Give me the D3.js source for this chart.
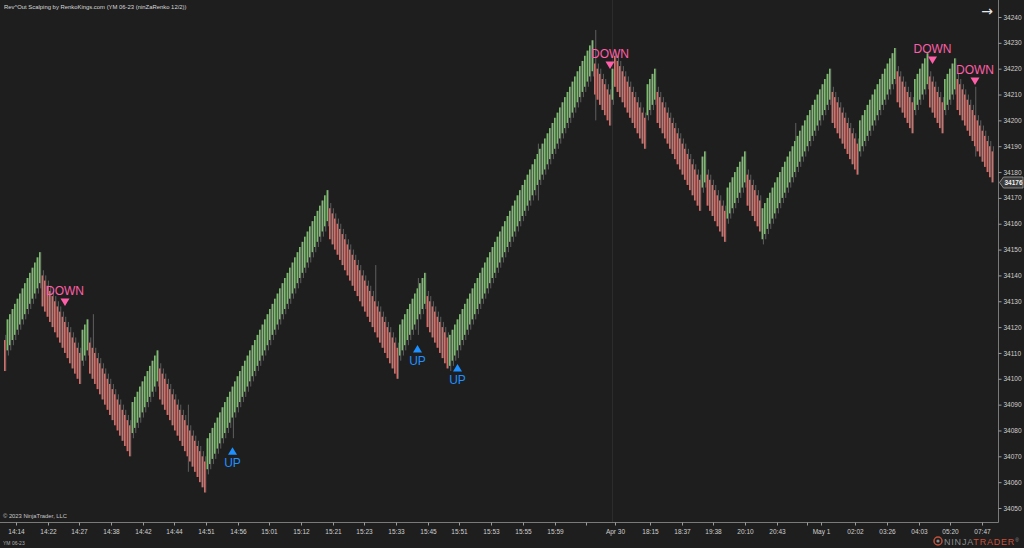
<!DOCTYPE html>
<html><head><meta charset="utf-8">
<script src="https://cdn.jsdelivr.net/npm/d3@7"></script>
<style>html,body{margin:0;padding:0;background:#1e1e1e;overflow:hidden}text{font-family:"Liberation Sans",Arial,sans-serif}</style>
</head><body><svg id="c" width="1024" height="548"></svg>
<script>
// ---- data ----
const closes = [
34103,
34123,34125,34127,34129,34131,34133,34135,34137,34139,34141,34143,34145,34147,34149,
34128,34126,34124,34122,34120,34118,34116,34114,34112,34110,34108,34106,34104,34102,34100,34098,
34119,34121,34123,
34102,34100,34098,34096,34094,34092,34090,34088,34086,34084,34082,34080,34078,34076,34074,34072,34070,
34091,34093,34095,34097,34099,34101,34103,34105,34107,34109,34111,
34092,34090,34088,34086,34084,34082,34080,34078,34076,34074,34072,34070,34068,34066,34064,34062,34060,34058,34056,
34077,34079,34081,34083,34085,34087,34089,34091,34093,34095,34097,34099,34101,34103,34105,34107,34109,34111,34113,34115,
34117,34119,34121,34123,34125,34127,34129,34131,34133,34135,34137,34139,34141,34143,34145,34147,34149,34151,34153,34155,
34157,34159,34161,34163,34165,34167,34169,34171,34173,
34154,34152,34150,34148,34146,34144,34142,34140,34138,34136,34134,34132,34130,34128,34126,34124,34122,34120,34118,34116,
34114,34112,34110,34108,34106,34104,34102,34100,
34121,34123,34125,34127,34129,34131,34133,34135,34137,34139,34141,
34120,34118,34116,34114,34112,34110,34108,34106,34104,
34117,34119,34121,34123,34125,34127,34129,34131,34133,34135,34137,34139,34141,34143,34145,34147,34149,34151,34153,34155,
34157,34159,34161,34163,34165,34167,34169,34171,34173,34175,34177,34179,34181,34183,34185,34187,34189,34191,34193,34195,
34197,34199,34201,34203,34205,34207,34209,34211,34213,34215,34217,34219,34221,34223,34225,34227,34229,34231,
34210,34208,34206,34204,34202,34200,34198,
34220,
34213,34211,34209,34207,34205,34203,34201,34199,34197,34195,34193,34191,34189,
34214,34216,34218,34220,
34199,34197,34195,34193,34191,34189,34187,34185,34183,34181,34179,34177,34175,34173,34171,34169,34167,34165,
34186,34188,
34167,34165,34163,34161,34159,34157,34155,34153,
34174,34176,34178,34180,34182,34184,34186,34188,
34167,34165,34163,34161,34159,34157,
34166,34168,34170,34172,34174,34176,34178,34180,34182,34184,34186,34188,34190,34192,34194,34196,34198,34200,34202,34204,
34206,34208,34210,34212,34214,34216,34218,34220,
34199,34197,34195,34193,34191,34189,34187,34185,34183,34181,34179,
34200,34202,34204,34206,34208,34210,34212,34214,34216,34218,34220,34222,34224,34226,34228,
34207,34205,34203,34201,34199,34197,34195,
34216,34218,34220,34222,34224,34226,
34205,34203,34201,34199,34197,34195,
34216,34218,34220,34222,34224,
34204,34202,34200,34198,34196,34194,34192,34190,34188,34186,34184,34182,34180,34178,34176
];
const brickSize = 12;
const wickTail = 2;
// long wicks: bar index, low, high
const wickIdx  = [35,    73,    91,    148,   165,   181,   213,   236,   316,   388];
const wickLow  = [34100, 34064, 34077, 34122, 34117, 34108, 34169, 34200, 34179, 34186];
const wickHigh = [34125, 34090, 34097, 34144, 34139, 34123, 34191, 34235, 34199, 34213];

const sigIdx   = [24, 91, 165, 181, 242, 371, 388];
const sigType  = ["DOWN","UP","UP","UP","DOWN","DOWN","DOWN"];
const sigPrice = [34129.7, 34072, 34111.5, 34104.2, 34221.4, 34223.4, 34215.2];

const yTickValues = [34050,34060,34070,34080,34090,34100,34110,34120,34130,34140,34150,34160,34170,34180,34190,34200,34210,34220,34230,34240];
const xTickIdx = [4.4,17.2,29.6,42.4,55.2,67.6,80.4,93.2,105.6,118.4,131.2,143.6,156.4,169.2,181.6,194.4,207.2,220,232.4,244,258,270.8,283.2,296,308.8,320.8,326.4,340,352.8,365.6,378,390.8];
const xTickLabels = ["14:14","14:22","14:27","14:38","14:42","14:44","14:51","14:56","15:01","15:12","15:21","15:23","15:33","15:45","15:51","15:53","15:55","15:59","","Apr 30","18:15","18:37","19:38","20:10","20:43","","May 1","02:02","03:26","04:03","05:20","07:47"];
const sessionBreaks = [242.7];
const lastPrice = 34176;

// ---- drawing ----
const W = 1024, H = 548;
const svg = d3.select("#c");
const plotR = 998.5, axisYpos = 522.5;
const x = d3.scaleLinear().domain([0, closes.length - 1]).range([5, 992.5]);
const y = d3.scaleLinear().domain([34050, 34240]).range([508, 17]);

svg.append("rect").attr("width", W).attr("height", H).attr("fill", "#1e1e1e");

svg.selectAll(".sess").data(sessionBreaks).join("line")
  .attr("x1", d => Math.round(x(d)) + 0.5).attr("x2", d => Math.round(x(d)) + 0.5)
  .attr("y1", 0).attr("y2", axisYpos).attr("stroke", "#2c2c2c").attr("stroke-width", 1);

const bars = closes.map((c, i) => {
  const up = i > 0 && c > closes[i - 1];
  const o = up ? c - brickSize : c + brickSize;
  let lo = up ? o - wickTail : c;
  let hi = up ? c : o + wickTail;
  const k = wickIdx.indexOf(i);
  if (k >= 0) { lo = Math.min(lo, wickLow[k]); hi = Math.max(hi, wickHigh[k]); }
  return {i, c, o, up, lo, hi};
});

const g = svg.append("g");
g.selectAll(".wick").data(bars).join("rect")
  .attr("x", d => x(d.i) + 0.4).attr("width", 0.8)
  .attr("y", d => y(d.hi)).attr("height", d => y(d.lo) - y(d.hi))
  .attr("fill", "#707070");
g.selectAll(".body").data(bars).join("rect")
  .attr("x", d => x(d.i) - 0.9).attr("width", 1.3)
  .attr("y", d => y(Math.max(d.o, d.c))).attr("height", d => Math.abs(y(d.o) - y(d.c)))
  .attr("fill", d => d.up ? "#86cf76" : "#ee7670");

// signals
const sig = sigIdx.map((idx, k) => ({idx, t: sigType[k], p: sigPrice[k]}));
const sg = svg.append("g");
sg.selectAll("path").data(sig).join("path")
  .attr("transform", d => `translate(${x(d.idx)},${y(d.p)})`)
  .attr("d", d => d.t === "UP" ? "M-4.5,3.5L4.5,3.5L0,-4Z" : "M-4.5,-3.5L4.5,-3.5L0,4Z")
  .attr("fill", d => d.t === "UP" ? "#1e90ff" : "#ff5fa8");
sg.selectAll("text").data(sig).join("text")
  .attr("x", d => x(d.idx)).attr("y", d => d.t === "UP" ? y(d.p) + 16 : y(d.p) - 7)
  .attr("text-anchor", "middle").attr("font-size", 12)
  .attr("fill", d => d.t === "UP" ? "#1e90ff" : "#ff5fa8")
  .text(d => d.t);

// y axis
svg.append("line").attr("x1", plotR).attr("x2", plotR).attr("y1", 0).attr("y2", axisYpos).attr("stroke", "#7a7a7a");
const ya = svg.append("g").attr("transform", `translate(${plotR},0)`)
  .call(d3.axisRight(y).tickValues(yTickValues).tickSize(3).tickPadding(2).tickFormat(d3.format("d")));
ya.select(".domain").remove();
ya.selectAll("line").attr("stroke", "#9a9a9a");
ya.selectAll("text").attr("fill", "#d0d0d0").attr("font-size", 6.5).attr("font-family", "Liberation Sans, Arial");

// x axis
svg.append("line").attr("x1", 0).attr("x2", plotR).attr("y1", axisYpos).attr("y2", axisYpos).attr("stroke", "#7a7a7a");
const xa = svg.append("g").attr("transform", `translate(0,${axisYpos})`)
  .call(d3.axisBottom(x).tickValues(xTickIdx).tickSize(3).tickPadding(4).tickFormat((d, i) => xTickLabels[i]));
xa.select(".domain").remove();
xa.selectAll("line").attr("stroke", "#9a9a9a");
xa.selectAll("text").attr("fill", "#d0d0d0").attr("font-size", 6.5).attr("font-family", "Liberation Sans, Arial");

// last price marker
const ly = Math.round(y(lastPrice)) + 0.5;
svg.append("path")
  .attr("d", `M${plotR + 1},${ly} L${plotR + 5},${ly - 5.5} L1023,${ly - 5.5} L1023,${ly + 5.5} L${plotR + 5},${ly + 5.5} Z`)
  .attr("fill", "#3b3b3b").attr("stroke", "#a0a0a0").attr("stroke-width", 0.8);
svg.append("text").attr("x", 1013.5).attr("y", ly + 2.4).attr("text-anchor", "middle")
  .attr("font-size", 6.5).attr("font-weight", "bold").attr("fill", "#f0f0f0").text(lastPrice);

// texts
svg.append("text").attr("x", 4).attr("y", 9).attr("font-size", 5.9).attr("fill", "#d8d8d8")
  .text("Rev^Out Scalping by RenkoKings.com (YM 06-23 (ninZaRenko 12/2))");
svg.append("text").attr("x", 3).attr("y", 518).attr("font-size", 5.8).attr("fill", "#c8c8c8")
  .text("© 2023 NinjaTrader, LLC");
svg.append("text").attr("x", 3).attr("y", 545).attr("font-size", 5).attr("fill", "#b0b0b0")
  .text("YM 06-23");
svg.append("text").attr("x", 987).attr("y", 16).attr("text-anchor", "middle").attr("font-size", 14)
  .style("font-family", "DejaVu Sans").attr("fill", "#e8e8e8").text("→");

// NinjaTrader logo
const lg = svg.append("g").attr("transform", "translate(938,541)");
lg.append("circle").attr("r", 4).attr("fill", "none").attr("stroke", "#c0503a").attr("stroke-width", 1.5);
lg.append("circle").attr("r", 1.6).attr("fill", "#8a8a8a");
const lt = lg.append("text").attr("x", 6).attr("y", 3.5).attr("font-size", 9).attr("letter-spacing", 0.8);
lt.append("tspan").attr("fill", "#8c8c8c").text("NINJA");
lt.append("tspan").attr("fill", "#c8503a").text("TRADER");
lt.append("tspan").attr("fill", "#8c8c8c").attr("font-size", 5).attr("dy", -3).text("®");
</script></body></html>
